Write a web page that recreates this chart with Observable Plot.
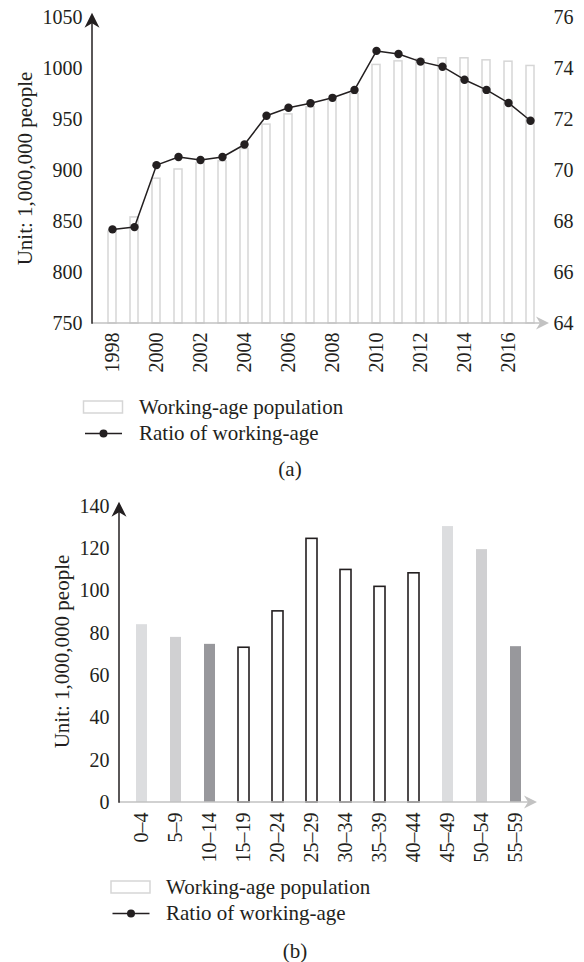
<!DOCTYPE html>
<html><head><meta charset="utf-8">
<script src="https://cdn.jsdelivr.net/npm/d3@7"></script>
<script src="https://cdn.jsdelivr.net/npm/@observablehq/plot@0.6"></script>
<style>
body{margin:0;background:#fff;}
#page{position:relative;width:584px;height:962px;overflow:hidden;font-family:"Liberation Serif",serif;color:#231f20;background:#fff;}
#page > svg{position:absolute;left:0;}
</style></head><body><div id="page"></div>
<script>
// ---------- data ----------
const years = [1998,1999,2000,2001,2002,2003,2004,2005,2006,2007,2008,2009,2010,2011,2012,2013,2014,2015,2016,2017];
const population = [840,854,892,901,907,909,921,945,955,962,968,975,1003.5,1007,1009,1010,1010,1008,1006.7,1002.5];
const ratio = [67.69,67.78,70.21,70.53,70.41,70.53,71.02,72.15,72.46,72.64,72.85,73.16,74.69,74.57,74.27,74.07,73.56,73.16,72.65,71.95];
const yearTicks = [1998,2000,2002,2004,2006,2008,2010,2012,2014,2016];
const popTicks = [750,800,850,900,950,1000,1050];
const ratioTicks = [64,66,68,70,72,74,76];

const ageGroups = ["0–4","5–9","10–14","15–19","20–24","25–29","30–34","35–39","40–44","45–49","50–54","55–59"];
const ageValues = [84.1,78.1,74.8,73.2,90.4,124.7,110,102,108.4,130.5,119.6,73.7];
const ageTicks = [0,20,40,60,80,100,120,140];

const legendLabels = ["Working-age population","Ratio of working-age"];
const yTitle = "Unit: 1,000,000 people";
const captions = ["(a)","(b)"];

// ---------- style ----------
const ink = "#231f20", faint = "#d6d6d6", axisGray = "#c2c2c2";
const ageBarFill = ["#dcdddf","#d0d0d2","#98989c","#ffffff","#ffffff","#ffffff","#ffffff","#ffffff","#ffffff","#dcdddf","#d0d0d2","#98989c"];
const ageBarOutlined = [false,false,false,true,true,true,true,true,true,false,false,false];
const font = {fontFamily:"'Liberation Serif', serif", fontSize:"20px", color:ink, background:"transparent", overflow:"visible"};

const page = document.getElementById("page");

const pMin = popTicks[0], pMax = popTicks[popTicks.length-1];
const rMin = ratioTicks[0], rMax = ratioTicks[ratioTicks.length-1];
const toLeft = r => pMin + (r - rMin) * (pMax - pMin) / (rMax - rMin);
const fromLeft = v => rMin + (v - pMin) * (rMax - rMin) / (pMax - pMin);

function addAxes(chart){
  const sx = chart.scale("x"), sy = chart.scale("y");
  const [xl, xr] = sx.range; const [yb, yt] = sy.range;
  const g = d3.select(chart).append("g");
  g.append("line").attr("x1", xl).attr("x2", xr - 6).attr("y1", yb).attr("y2", yb)
    .attr("stroke", axisGray).attr("stroke-width", 1.5);
  g.append("path").attr("d", `M${xr},${yb}L${xr-13},${yb-6.5}L${xr-9},${yb}L${xr-13},${yb+6.5}Z`).attr("fill", axisGray);
  const tip = yt - 4.3;
  g.append("line").attr("x1", xl).attr("x2", xl).attr("y1", yb + 0.75).attr("y2", tip + 8)
    .attr("stroke", ink).attr("stroke-width", 1.5);
  g.append("path").attr("d", `M${xl},${tip}L${xl+7.5},${tip+15}L${xl},${tip+10.5}L${xl-7.5},${tip+15}Z`).attr("fill", ink);
}

// ---------- chart (a) ----------
const dataA = years.map((year, i) => ({year, pop: population[i], ratio: ratio[i]}));
const chartA = Plot.plot({
  width: 584, height: 385, marginTop: 17, marginBottom: 62, marginLeft: 92, marginRight: 35,
  style: font,
  x: {type: "band", domain: years, paddingInner: 0.65, paddingOuter: 0.305},
  y: {domain: [pMin, pMax]},
  marks: [
    Plot.barY(dataA, {x: "year", y1: pMin, y2: "pop", fill: "white", stroke: faint, strokeWidth: 1.5}),
    Plot.line(dataA, {x: "year", y: d => toLeft(d.ratio), stroke: ink, strokeWidth: 1.5}),
    Plot.dot(dataA, {x: "year", y: d => toLeft(d.ratio), r: 4.2, fill: ink, stroke: "none"}),
    Plot.axisY(popTicks, {anchor: "left", tickSize: 0, tickPadding: 10, label: null, tickFormat: d => String(d)}),
    Plot.axisY(ratioTicks.map(toLeft), {anchor: "right", tickSize: 0, tickPadding: 4, label: null,
      tickFormat: v => String(Math.round(fromLeft(v)))}),
    Plot.axisX(yearTicks, {anchor: "bottom", tickSize: 0, tickPadding: 9, tickRotate: -90, label: null,
      tickFormat: d => String(d)}),
    Plot.text([yTitle], {frameAnchor: "left", textAnchor: "middle", lineAnchor: "middle", rotate: -90, dx: -67, dy: -2, fontSize: 21, fill: ink})
  ]
});
addAxes(chartA);
chartA.style.top = "0px";
page.appendChild(chartA);

// ---------- chart (b) ----------
const dataB = ageGroups.map((group, i) => ({group, value: ageValues[i], fill: ageBarFill[i], outlined: ageBarOutlined[i]}));
const chartB = Plot.plot({
  width: 584, height: 390, marginTop: 26, marginBottom: 68, marginLeft: 119, marginRight: 47,
  style: font,
  color: {type: "identity"},
  x: {type: "band", domain: ageGroups, paddingInner: 0.685, paddingOuter: 0.33},
  y: {domain: [ageTicks[0], ageTicks[ageTicks.length-1]]},
  marks: [
    Plot.barY(dataB, {x: "group", y: "value", fill: "fill"}),
    Plot.barY(dataB.filter(d => d.outlined), {x: "group", y: "value", fill: "none", stroke: ink, strokeWidth: 1.6}),
    Plot.axisY(ageTicks, {anchor: "left", tickSize: 0, tickPadding: 10, label: null, tickFormat: d => String(d)}),
    Plot.axisX(ageGroups, {anchor: "bottom", tickSize: 0, tickPadding: 10, tickRotate: -90, label: null}),
    Plot.text([yTitle], {frameAnchor: "left", textAnchor: "middle", lineAnchor: "middle", rotate: -90, dx: -57, dy: -3, fontSize: 21, fill: ink})
  ]
});
addAxes(chartB);
chartB.style.top = "480px";
page.appendChild(chartB);

// ---------- legends & captions ----------
const ov = d3.select(page).append("svg").attr("width", 584).attr("height", 962)
  .style("top", "0px").style("pointer-events", "none")
  .style("font-family", "'Liberation Serif', serif").style("font-size", "21px");
function legend(xRect, yRow1, xText, xCap, yCap, cap){
  ov.append("rect").attr("x", xRect).attr("y", yRow1 - 6).attr("width", 39).attr("height", 12)
    .attr("fill", "white").attr("stroke", faint).attr("stroke-width", 1.5);
  ov.append("text").attr("x", xText).attr("y", yRow1 + 6.5).attr("fill", ink).text(legendLabels[0]);
  const y2 = yRow1 + 26.5;
  ov.append("line").attr("x1", xRect + 1.5).attr("x2", xRect + 38.5).attr("y1", y2).attr("y2", y2)
    .attr("stroke", ink).attr("stroke-width", 1.5);
  ov.append("circle").attr("cx", xRect + 20).attr("cy", y2).attr("r", 4).attr("fill", ink);
  ov.append("text").attr("x", xText).attr("y", y2 + 6.5).attr("fill", ink).text(legendLabels[1]);
  ov.append("text").attr("x", xCap).attr("y", yCap).attr("text-anchor", "middle").attr("fill", ink).text(cap);
}
legend(83.5, 407, 139, 290, 476, captions[0]);
legend(111, 887, 166, 295, 958, captions[1]);
</script></body></html>
